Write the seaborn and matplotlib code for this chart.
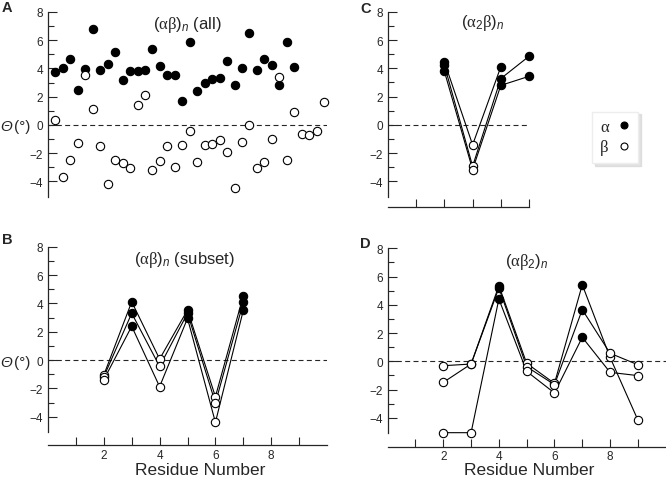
import pandas as pd
import matplotlib.pyplot as plt
from matplotlib.lines import Line2D
import seaborn as sns

# Panel A: all (alpha-beta)n residues, in sequence order
a_alpha = [3.74, 4.05, 4.69, 2.49, 3.93, 6.82, 3.91, 4.31, 5.14, 3.15, 3.79,
           3.81, 3.91, 5.35, 4.14, 3.57, 3.55, 1.73, 5.85, 2.39, 2.96, 3.27,
           3.34, 4.54, 2.84, 4.05, 6.49, 3.86, 4.64, 4.26, 2.86, 5.87, 4.07]
a_beta = [0.33, -3.72, -2.46, -1.25, 3.53, 1.16, -1.47, -4.21, -2.46, -2.67,
          -3.03, 1.42, 2.13, -3.17, -2.56, -1.47, -3.01, -1.42, -0.45, -2.65,
          -1.44, -1.33, -1.09, -1.89, -4.45, -1.18, 0.02, -3.08, -2.65, -0.97,
          3.43, -2.49, 0.92, -0.64, -0.69, -0.43, 1.63]

# Panel B: (alpha-beta)n subset
b_residue = [2, 3, 4, 5, 6, 7]
b_kind = ['β', 'α', 'β', 'α', 'β', 'α']
b_line1 = [-1.06, 4.11, 0.07, 3.53, -2.59, 4.54]
b_line2 = [-1.18, 3.30, -0.45, 3.30, -3.03, 4.07]
b_line3 = [-1.39, 2.38, -1.88, 2.94, -4.40, 3.51]

# Panel C: (alpha2-beta)n
c_residue = [2, 3, 4, 5]
c_kind = ['α', 'β', 'α', 'α']
c_line1 = [4.45, -1.42, 4.10, None]
c_line2 = [4.21, -2.94, 3.27, 4.85]
c_line3 = [3.78, -3.17, 2.79, 3.43]

# Panel D: (alpha-beta2)n
d_residue = [2, 3, 4, 5, 6, 7, 8, 9]
d_kind = ['β', 'β', 'α', 'β', 'β', 'α', 'β', 'β']
d_line1 = [-0.31, -0.19, 5.35, -0.14, -1.56, 5.42, 0.28, -4.15]
d_line2 = [-1.49, -0.19, 5.19, -0.38, -1.65, 3.66, 0.57, -0.24]
d_line3 = [-5.05, -5.05, 4.41, -0.71, -2.24, 1.70, -0.78, -1.01]

sns.set_style('ticks')
plt.rcParams['font.family'] = ['Liberation Sans', 'DejaVu Sans']
plt.rcParams['mathtext.fontset'] = 'custom'
plt.rcParams['mathtext.rm'] = 'Liberation Serif'
plt.rcParams['mathtext.it'] = 'Liberation Sans:italic'
plt.rcParams['mathtext.sf'] = 'Liberation Sans'
plt.rcParams['mathtext.bf'] = 'Liberation Sans:bold'


def long_form(residue, kind, *series):
    rows = []
    for k, vals in enumerate(series):
        for r, t, v in zip(residue, kind, vals):
            if v is not None:
                rows.append({'residue': r, 'kind': t, 'theta': v, 'line': k})
    return pd.DataFrame(rows)


def draw_points(ax, df, x):
    # filled = alpha, open = beta
    sns.scatterplot(data=df[df.kind == 'α'], x=x, y='theta', color='black',
                    edgecolor='black', s=36, linewidth=0.8, ax=ax, zorder=4,
                    clip_on=False)
    sns.scatterplot(data=df[df.kind == 'β'], x=x, y='theta', color='white',
                    edgecolor='black', s=36, linewidth=0.8, ax=ax, zorder=4,
                    clip_on=False)


def draw_lines(ax, df):
    sns.lineplot(data=df, x='residue', y='theta', units='line', estimator=None,
                 color='black', lw=0.8, ax=ax, sort=False, zorder=3, clip_on=False)
    draw_points(ax, df, 'residue')


def style(ax, xlim, xticks=None, xlabels=None, offset=9.5):
    ax.set_xlim(*xlim)
    ax.set_ylim(-5.1, 8)
    ax.set_yticks([-4, -2, 0, 2, 4, 6, 8])
    ax.set_yticks([-3, -1, 1, 3, 5, 7], minor=True)
    ax.tick_params(axis='y', which='major', direction='in', length=6.5,
                   width=0.8, labelsize=8.5, pad=3.5)
    ax.tick_params(axis='y', which='minor', direction='in', length=4.5, width=0.8)
    ax.axhline(0, color='0.15', lw=0.8, ls=(0, (4.5, 3)), zorder=1)
    ax.set_xlabel('')
    ax.set_ylabel('')
    ax.spines['left'].set_linewidth(0.9)
    if xticks is None:
        sns.despine(ax=ax, bottom=True)
        ax.set_xticks([])
    else:
        sns.despine(ax=ax)
        ax.spines['bottom'].set_position(('outward', offset))
        ax.spines['bottom'].set_linewidth(0.9)
        ax.set_xticks(xticks)
        ax.set_xticklabels(xlabels)
        ax.tick_params(axis='x', direction='in', length=6, width=0.8,
                       labelsize=8.5, pad=2.5)


def theta_label(ax):
    tr = ax.get_yaxis_transform()
    ax.text(-0.128, 0, 'Θ', transform=tr, ha='right', va='center_baseline',
            fontsize=11, style='italic')
    ax.text(-0.062, 0, '(°)', transform=tr, ha='right', va='center_baseline',
            fontsize=11)


fig = plt.figure(figsize=(6.66, 4.81), dpi=100)
axA = fig.add_axes([0.0721, 0.5884, 0.4189, 0.3846])
axB = fig.add_axes([0.0721, 0.0992, 0.4189, 0.3859])
axC = fig.add_axes([0.5826, 0.5888, 0.2117, 0.3846])
axD = fig.add_axes([0.5821, 0.0969, 0.4174, 0.3848])

res_ticks = [1, 2, 3, 4, 5, 6, 7, 8, 9]
res_labels = ['', '2', '', '4', '', '6', '', '8', '']

# A
df_a = pd.concat([
    pd.DataFrame({'pos': range(1, len(a_alpha) + 1), 'theta': a_alpha, 'kind': 'α'}),
    pd.DataFrame({'pos': range(1, len(a_beta) + 1), 'theta': a_beta, 'kind': 'β'}),
])
draw_points(axA, df_a, 'pos')
style(axA, (0, 37.4))
theta_label(axA)
axA.text(0.5, 0.99, r'($\mathrm{αβ}$)$_{\mathit{n}}$ (all)', transform=axA.transAxes,
         ha='center', va='top', fontsize=12)

# B
draw_lines(axB, long_form(b_residue, b_kind, b_line1, b_line2, b_line3))
style(axB, (0, 10), res_ticks, res_labels)
theta_label(axB)
axB.text(0.49, 0.99, r'($\mathrm{αβ}$)$_{\mathit{n}}$ (subset)', transform=axB.transAxes,
         ha='center', va='top', fontsize=12)
axB.set_xlabel('Residue Number', fontsize=12.5)
axB.xaxis.set_label_coords(0.545, -0.16)

# C
draw_lines(axC, long_form(c_residue, c_kind, c_line1, c_line2, c_line3))
style(axC, (0, 5), [1, 2, 3, 4, 5], ['', '', '', '', ''], offset=7.5)
axC.text(0.67, 1.0, r'($\mathrm{α}_{\mathsf{2}}\mathrm{β}$)$_{\mathit{n}}$',
         transform=axC.transAxes, ha='center', va='top', fontsize=12)

# D
draw_lines(axD, long_form(d_residue, d_kind, d_line1, d_line2, d_line3))
style(axD, (0, 10), res_ticks, res_labels)
axD.text(0.50, 0.985, r'($\mathrm{αβ}_{\mathsf{2}}$)$_{\mathit{n}}$',
         transform=axD.transAxes, ha='center', va='top', fontsize=12)
axD.set_xlabel('Residue Number', fontsize=12.5)
axD.xaxis.set_label_coords(0.51, -0.157)

# panel letters
for x, y, s in [(0.003, 0.997, 'A'), (0.003, 0.516, 'B'),
                (0.5405, 0.995, 'C'), (0.5405, 0.508, 'D')]:
    fig.text(x, y, s, fontsize=10.5, fontweight='bold', ha='left', va='top')

handles = [Line2D([], [], ls='', marker='o', ms=5, mfc='black', mec='black', mew=0.8),
           Line2D([], [], ls='', marker='o', ms=5, mfc='white', mec='black', mew=0.8)]
fig.legend(handles, ['α', 'β'], loc='upper left', bbox_to_anchor=(0.877, 0.783),
           markerfirst=False, frameon=True, fancybox=False, edgecolor='0.93',
           framealpha=1, shadow={'color': '0.82', 'alpha': 0.6},
           prop={'family': 'Liberation Serif', 'size': 12},
           handlelength=0.8, handletextpad=0.5, labelspacing=0.25, borderpad=0.45)

plt.savefig('out.png', dpi=100)
